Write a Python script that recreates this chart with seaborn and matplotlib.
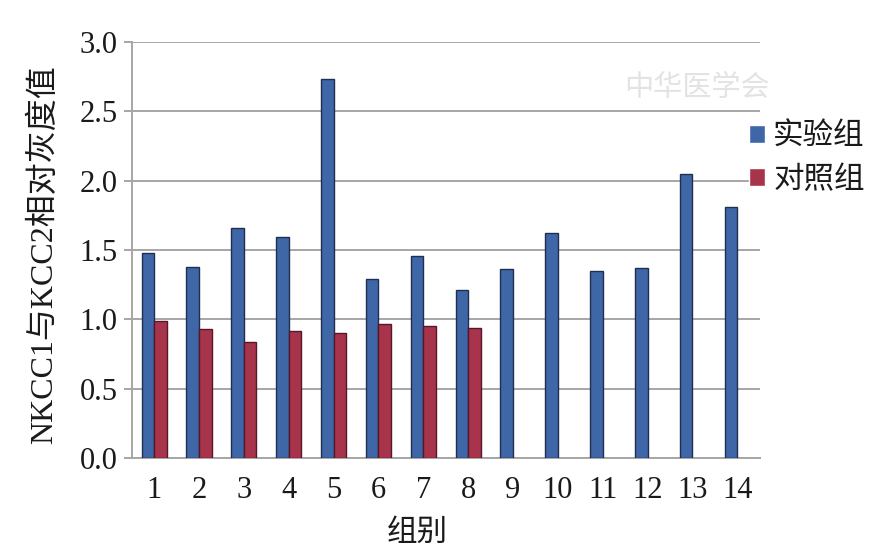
import pandas as pd
import numpy as np
import matplotlib
matplotlib.use('Agg')
import matplotlib.pyplot as plt
import seaborn as sns
from matplotlib.ticker import MultipleLocator, FixedLocator

# values
groups = [str(i) for i in range(1, 15)]
exp_vals = [1.48, 1.38, 1.66, 1.59, 2.73, 1.29, 1.46, 1.21, 1.36, 1.62, 1.35, 1.37, 2.05, 1.81]
ctrl_vals = [0.99, 0.93, 0.835, 0.92, 0.90, 0.97, 0.95, 0.94]
series_names = ['实验组', '对照组']

COLORS = {'实验组': '#3f66a6', '对照组': '#a8344b'}
EDGES = {'实验组': '#1f2f52', '对照组': '#55182a'}

rows = [(g, series_names[0], v) for g, v in zip(groups, exp_vals)]
rows += [(g, series_names[1], v) for g, v in zip(groups[:len(ctrl_vals)], ctrl_vals)]
df = pd.DataFrame(rows, columns=['组别', '组', '值'])

sns.set_style('white')
FONT = ['Liberation Serif', 'Noto Sans CJK SC']
plt.rcParams['font.family'] = FONT

fig = plt.figure(figsize=(8.9, 5.47), dpi=100)
ax = fig.add_axes([0.148, 0.162, 0.7056, 0.762])

sns.barplot(data=df, x='组别', y='值', hue='组', order=groups, hue_order=series_names,
            palette=COLORS, width=0.56, saturation=1, errorbar=None, ax=ax, zorder=3)

for bars, name in zip(ax.containers, series_names):
    for b in bars:
        b.set_edgecolor(EDGES[name])
        b.set_linewidth(1.0)

ax.set_ylim(0, 3.0)
ax.set_xlim(-0.5, len(groups) - 0.5)
ax.yaxis.set_major_locator(MultipleLocator(0.5))
ax.set_yticklabels([f'{t:.1f}' for t in ax.get_yticks()])
ax.yaxis.grid(True, color='#a6a6a6', linewidth=1.4, zorder=0)
ax.set_axisbelow(True)

for s in ['top', 'right']:
    ax.spines[s].set_visible(False)
for s in ['left', 'bottom']:
    ax.spines[s].set_color('#a6a6a6')
    ax.spines[s].set_linewidth(1.4)

ax.xaxis.set_minor_locator(FixedLocator(np.arange(-0.5, len(groups), 1.0)))
ax.tick_params(axis='x', which='major', length=0, labelsize=22, pad=13, colors='#1a1a1a')
ax.tick_params(axis='x', which='minor', length=6, width=1.4, color='#a6a6a6', direction='out')
ax.tick_params(axis='y', which='major', length=6, width=1.4, color='#a6a6a6',
               labelsize=22, pad=4, labelcolor='#1a1a1a', left=True)

ax.set_xlabel('组别', fontsize=22, color='#1a1a1a')
ax.xaxis.set_label_coords(0.454, -0.145)
ax.set_ylabel('NKCC1与KCC2相对灰度值', fontsize=23, color='#1a1a1a')
ax.yaxis.set_label_coords(-0.115, 0.49)

leg = ax.legend(loc='upper left', bbox_to_anchor=(0.963, 0.834), frameon=False,
                fontsize=22, handlelength=0.55, handleheight=0.55, handletextpad=0.25,
                labelspacing=0.45, borderaxespad=0)
for t in leg.get_texts():
    t.set_color('#1a1a1a')

# faint publisher watermark
ax.text(0.90, 0.889, '中华医学会', transform=ax.transAxes, fontsize=21, color='#e3e3e3',
        style='italic', ha='center', va='center', family=['Noto Sans CJK SC'], zorder=1)

fig.savefig('out.png', dpi=100, facecolor='white')
